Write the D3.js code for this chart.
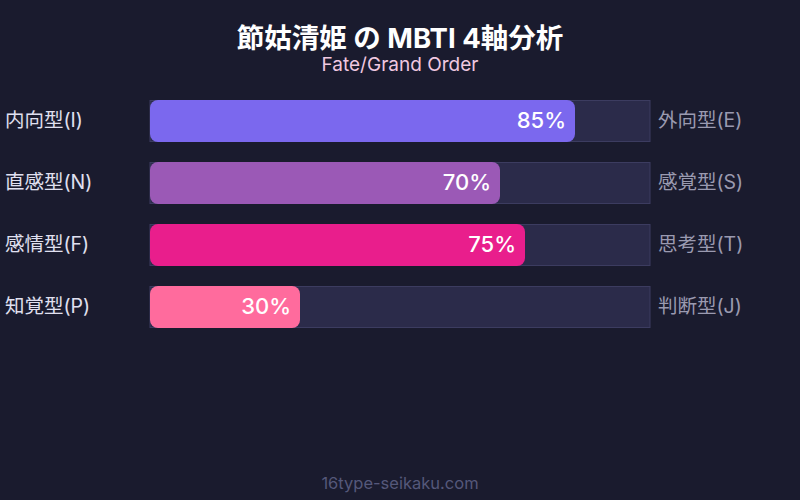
<!DOCTYPE html>
<html><head><meta charset="utf-8">
<script src="https://cdn.jsdelivr.net/npm/d3@7"></script>
<style>
html,body{margin:0;padding:0;background:#1a1b2e;}
svg{display:block;font-family:Inter,"Noto Sans CJK JP",sans-serif;}
</style></head><body>
<svg id="c" width="800" height="500"></svg>
<script>
const leftLabels = ["内向型(I)","直感型(N)","感情型(F)","知覚型(P)"];
const rightLabels = ["外向型(E)","感覚型(S)","思考型(T)","判断型(J)"];
const values = [85,70,75,30];
const colors = ["#7b68ee","#9b59b6","#e91e8c","#ff6b9d"];
const title = "節姑清姫 の MBTI 4軸分析";
const subtitle = "Fate/Grand Order";
const footer = "16type-seikaku.com";

const svg = d3.select("#c");
svg.append("rect").attr("width",800).attr("height",500).attr("fill","#1a1b2e");

const x = d3.scaleLinear().domain([0,100]).range([150,650]);
const y = d3.scaleBand().domain(d3.range(values.length)).range([100,328]).paddingInner(20/62).paddingOuter(0);
const bh = y.bandwidth();

svg.append("text").attr("x",400).attr("y",48).attr("text-anchor","middle")
  .attr("fill","#ffffff").attr("font-size",27.5).attr("font-weight","bold").text(title);
svg.append("text").attr("x",400).attr("y",71).attr("text-anchor","middle")
  .attr("fill","#f0c8e0").attr("font-size",19).text(subtitle);

const rows = svg.append("g").selectAll("g.row").data(values).join("g").attr("class","row");

rows.append("rect").attr("x",x(0)).attr("y",(d,i)=>y(i)+0.5).attr("width",x(100)-x(0)).attr("height",bh-1)
  .attr("fill","#2b2b4a").attr("stroke","#3c3c60").attr("stroke-width",1);
rows.append("rect").attr("x",x(0)).attr("y",(d,i)=>y(i)).attr("width",d=>x(d)-x(0)).attr("height",bh)
  .attr("rx",8).attr("ry",8).attr("fill",(d,i)=>colors[i]);
rows.append("text").attr("x",d=>x(d)-9).attr("y",(d,i)=>y(i)+bh/2).attr("dy","0.3em")
  .attr("text-anchor","end").attr("fill","#ffffff").attr("font-size",22).attr("font-weight",500)
  .text(d=>d+"%");
rows.append("text").attr("x",5).attr("y",(d,i)=>y(i)+bh/2).attr("dy","0.33em")
  .attr("fill","#e0e0f0").attr("font-size",19.5).text((d,i)=>leftLabels[i]);
rows.append("text").attr("x",658).attr("y",(d,i)=>y(i)+bh/2).attr("dy","0.33em")
  .attr("fill","#9a9ab0").attr("font-size",19.5).text((d,i)=>rightLabels[i]);

svg.append("text").attr("x",400).attr("y",489).attr("text-anchor","middle")
  .attr("fill","#55587a").attr("font-size",16.5).text(footer);
</script></body></html>
